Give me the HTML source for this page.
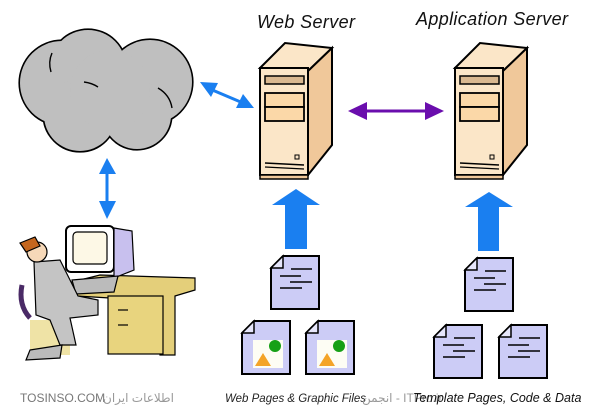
<!DOCTYPE html>
<html><head><meta charset="utf-8"><style>
html,body{margin:0;padding:0;background:#fff;width:600px;height:418px;overflow:hidden}
svg{display:block}
text{font-family:"Liberation Sans","DejaVu Sans",sans-serif}
</style></head><body>
<svg width="600" height="418" viewBox="0 0 600 418" xmlns="http://www.w3.org/2000/svg">
<defs>
<g id="server">
  <polygon points="0,25 25,0 72,5 48,28" fill="#fbe6c8" stroke="#000" stroke-width="2"/>
  <polygon points="48,28 72,5 72,102 48,132" fill="#f0c89a" stroke="#000" stroke-width="2"/>
  <rect x="0" y="25" width="48" height="107" fill="#fbe6c8" stroke="#000" stroke-width="2"/>
  <rect x="0" y="132" width="48" height="4" fill="#f0c89a" stroke="#000" stroke-width="1.5"/>
  <rect x="5" y="33" width="39" height="8" fill="#d9b890" stroke="#000" stroke-width="1.5"/>
  <rect x="5" y="50" width="39" height="14" fill="#fbd8a8" stroke="#000" stroke-width="1.8"/>
  <rect x="5" y="64" width="39" height="14" fill="#fbd8a8" stroke="#000" stroke-width="1.8"/>
  <rect x="35" y="112" width="4" height="4" fill="none" stroke="#000" stroke-width="1"/>
  <line x1="5" y1="120" x2="44" y2="122" stroke="#000" stroke-width="1.5"/>
  <line x1="5" y1="124" x2="44" y2="126" stroke="#000" stroke-width="1.2"/>
</g>
<g id="doc">
  <polygon points="12,0 48,0 48,53 0,53 0,12" fill="#ccccf6" stroke="#000" stroke-width="2"/>
  <polygon points="0,12 12,12 12,0" fill="#e6e6fb" stroke="#000" stroke-width="1.5"/>
</g>
<g id="tdoc">
  <use href="#doc"/>
  <line x1="20" y1="13" x2="41" y2="13" stroke="#000" stroke-width="1.5"/>
  <line x1="9" y1="20" x2="30" y2="20" stroke="#000" stroke-width="1.5"/>
  <line x1="19" y1="26" x2="41" y2="26" stroke="#000" stroke-width="1.5"/>
  <line x1="9" y1="32" x2="31" y2="32" stroke="#000" stroke-width="1.5"/>
</g>
<g id="gdoc">
  <use href="#doc"/>
  <rect x="11" y="19" width="30" height="28" fill="#fdfdf4"/>
  <circle cx="33" cy="25" r="6" fill="#16a016"/>
  <polygon points="13,45 21,32 29,45" fill="#f4a428"/>
</g>
</defs>

<!-- cloud: outline layer then fill layer -->
<g fill="#000" stroke="#000" stroke-width="3.2">
  <circle cx="62" cy="83" r="42"/>
  <circle cx="88" cy="68" r="38"/>
  <circle cx="150" cy="82" r="42"/>
  <circle cx="80" cy="115" r="36"/>
  <circle cx="137" cy="115" r="34"/>
</g>
<g fill="#bfbfbf">
  <circle cx="62" cy="83" r="42"/>
  <circle cx="88" cy="68" r="38"/>
  <circle cx="150" cy="82" r="42"/>
  <circle cx="80" cy="115" r="36"/>
  <circle cx="137" cy="115" r="34"/>
  <circle cx="110" cy="90" r="40"/>
</g>
<path d="M84 82 Q92 83 98 87" fill="none" stroke="#000" stroke-width="1.4"/>
<path d="M52 53 Q48 62 51 72" fill="none" stroke="#000" stroke-width="1.4"/>
<path d="M158 88 Q170 95 172 108" fill="none" stroke="#000" stroke-width="1.4"/>

<!-- blue arrows -->
<g fill="#1a7ff0" stroke="#1a7ff0">
  <line x1="210" y1="89" x2="243" y2="103" stroke-width="3"/>
  <polygon points="200,82 218,83 211,97" stroke="none"/>
  <polygon points="254,108 236,108 243,94" stroke="none"/>
  <line x1="107" y1="168" x2="107" y2="208" stroke-width="3"/>
  <polygon points="107,158 99,174 116,174" stroke="none"/>
  <polygon points="107,219 99,201 116,201" stroke="none"/>
</g>
<!-- purple arrow -->
<line x1="358" y1="111" x2="432" y2="111" stroke="#6a0dad" stroke-width="3"/>
<polygon points="348,111 367,102 367,120" fill="#6a0dad"/>
<polygon points="444,111 425,102 425,120" fill="#6a0dad"/>

<!-- servers -->
<use href="#server" x="260" y="43"/>
<use href="#server" x="455" y="43"/>

<!-- titles -->
<text x="257" y="28" font-size="18" font-style="italic" fill="#111" textLength="98">Web Server</text>
<text x="416" y="25" font-size="18" font-style="italic" fill="#111" textLength="152">Application Server</text>

<!-- up arrows -->
<polygon points="296,189 320,205 307,205 307,249 285,249 285,205 272,205" fill="#1a7ff0"/>
<polygon points="489,192 513,207 499,207 499,251 478,251 478,207 465,207" fill="#1a7ff0"/>

<!-- docs -->
<use href="#tdoc" x="271" y="256"/>
<use href="#gdoc" x="242" y="321"/>
<use href="#gdoc" x="306" y="321"/>
<use href="#tdoc" x="465" y="258"/>
<use href="#tdoc" x="434" y="325"/>
<use href="#tdoc" x="499" y="325"/>

<!-- person & desk -->
<g stroke="#000" stroke-width="1.2">
  <polygon points="60,285 100,275 195,278 195,290 175,296 175,355 160,355 160,300 110,298 60,295" fill="#e4cf7a"/>
  <rect x="108" y="296" width="55" height="58" fill="#e8d47e"/>
  <line x1="118" y1="310" x2="128" y2="310"/>
  <line x1="118" y1="325" x2="128" y2="325"/>
  <rect x="30" y="320" width="40" height="35" fill="#efe3a6" stroke="none"/>
  <rect x="66" y="226" width="48" height="46" rx="5" fill="#fff" stroke-width="2"/>
  <rect x="73" y="232" width="34" height="32" rx="4" fill="#fdf8e6"/>
  <polygon points="114,228 132,231 134,270 114,278" fill="#c8c0ee"/>
  <polygon points="72,280 118,276 114,292 76,294" fill="#bbb"/>
  <path d="M22 285 Q18 305 30 318" fill="none" stroke="#4a2a66" stroke-width="5"/>
  <polygon points="34,262 60,260 78,296 98,300 98,315 70,318 76,345 60,345 50,320 36,315" fill="#c4c4c4"/>
  <circle cx="37" cy="252" r="10" fill="#f6d8b8"/>
  <polygon points="20,243 35,237 40,246 26,252" fill="#c4661e"/>
  <polygon points="30,350 62,345 60,358 26,360" fill="#bbb"/>
</g>

<!-- bottom labels -->
<text x="20" y="402" font-size="12" fill="#777">TOSINSO.COM</text>
<text x="103" y="402" font-size="12" fill="#999" font-family="'DejaVu Sans',sans-serif">اطلاعات ایران</text>
<text x="225" y="402" font-size="11.5" font-style="italic" fill="#222">Web Pages &amp; Graphic Files</text>
<text x="362" y="402" font-size="12" fill="#999" font-family="'DejaVu Sans',sans-serif">انجمن - ITPro.ir</text>
<text x="413" y="402" font-size="12.5" font-style="italic" fill="#111">Template Pages, Code &amp; Data</text>
</svg>
</body></html>
